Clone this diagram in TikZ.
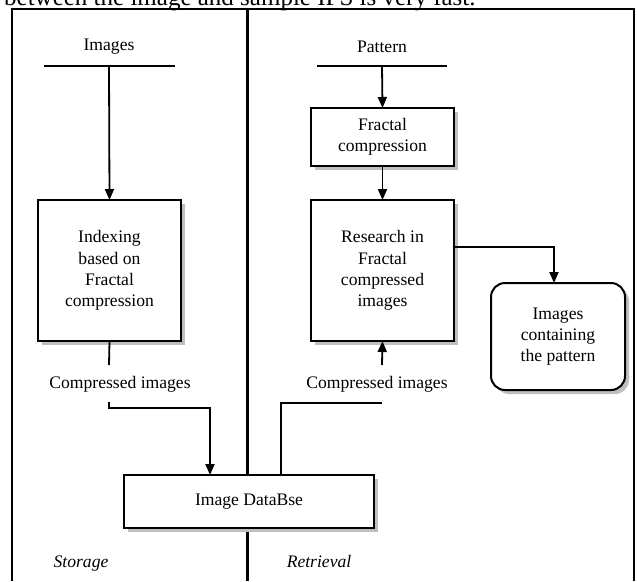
\documentclass[tikz,border=0pt]{standalone}
\usepackage{fontspec}
\setmainfont{Liberation Serif}
\usetikzlibrary{arrows.meta,shadows,calc}

\tikzset{
  lbl/.style={font=\fontsize{17.6}{21.3}\selectfont, align=center, inner sep=0pt},
  itlbl/.style={lbl, font=\fontsize{17.6}{21.3}\selectfont\itshape, anchor=base},
  box/.style={lbl, draw, fill=white, line width=2pt, outer sep=0pt,
    drop shadow={shadow xshift=4pt, shadow yshift=-4pt, fill=black!25, opacity=1}},
  frameline/.style={line width=2.4pt},
  conn/.style={line width=1.8pt},
  arr/.style={conn, -{Triangle[length=11pt,width=9pt]}}
}

\begin{document}
\begin{tikzpicture}[x=1pt,y=-1pt]
  \clip (0,0) rectangle (637,581);
  \useasboundingbox (0,0) rectangle (637,581);

  % line of running text above the figure
  \node[anchor=base west, inner sep=0pt, font=\fontsize{25}{30}\selectfont] (lead) at (4,5)
    {between the image and sample IFS is very fast.};

  % frame and divider between the two halves
  \draw[frameline] (12,581) -- (12,9) -- (634,9) -- (634,581);
  \draw[line width=3pt] (247,9) -- (247,581);

  % inputs
  \node[lbl] (images) at (109,47) {Images};
  \node[lbl] (pattern) at (382,47) {Pattern};
  \coordinate (imgbarL) at (44,66);
  \coordinate (imgbarR) at (175,66);
  \coordinate (patbarL) at (317,66);
  \coordinate (patbarR) at (447,66);
  \draw[conn] (imgbarL) -- (imgbarR);
  \draw[conn] (patbarL) -- (patbarR);
  \coordinate (imgdrop) at (109,66);
  \coordinate (patdrop) at (382,66);

  % processing boxes
  \node[box, minimum width=143pt, minimum height=141pt] (idx) at (109.5,270.5)
    {Indexing\\based on\\Fractal\\compression};
  \node[box, minimum width=143pt, minimum height=58pt] (frac) at (382.5,137)
    {Fractal\\compression};
  \node[box, minimum width=143pt, minimum height=141pt] (res) at (382.5,270.5)
    {Research in\\Fractal\\compressed\\images};
  \node[box, rounded corners=14pt, minimum width=134pt, minimum height=107pt] (out) at (558,336.5)
    {Images\\containing\\the pattern};
  \node[box, minimum width=250pt, minimum height=53pt] (db) at (249,501.5)
    {Image DataBse};

  % edge labels
  \node[lbl] (cimgL) at (120,384) {Compressed images};
  \node[lbl] (cimgR) at (377,384) {Compressed images};
  \node[itlbl] (storage) at (81,567) {Storage};
  \node[itlbl] (retrieval) at (319,567) {Retrieval};

  % storage side connectors
  \draw[arr] (imgdrop) -- (idx.north);
  \coordinate (idxout) at (109,365);
  \draw[conn] (idx.south) -- (idxout);
  \coordinate (storeA) at (109,402);
  \coordinate (storeB) at (210,408);
  \draw[arr] (storeA) |- (storeB) -- (storeB |- db.north);

  % retrieval side connectors
  \draw[arr] (patdrop) -- (frac.north);
  \draw[arr] (frac.south) -- (res.north);
  \draw[arr] ([yshift=-47pt]res.north east) -| ([xshift=-4pt]out.north);
  \coordinate (fetchA) at (281,475);
  \coordinate (fetchB) at (382,403);
  \draw[conn] (fetchA) |- (fetchB);
  \coordinate (resin) at (382,365);
  \draw[arr] (resin) -- (res.south);
\end{tikzpicture}
\end{document}
